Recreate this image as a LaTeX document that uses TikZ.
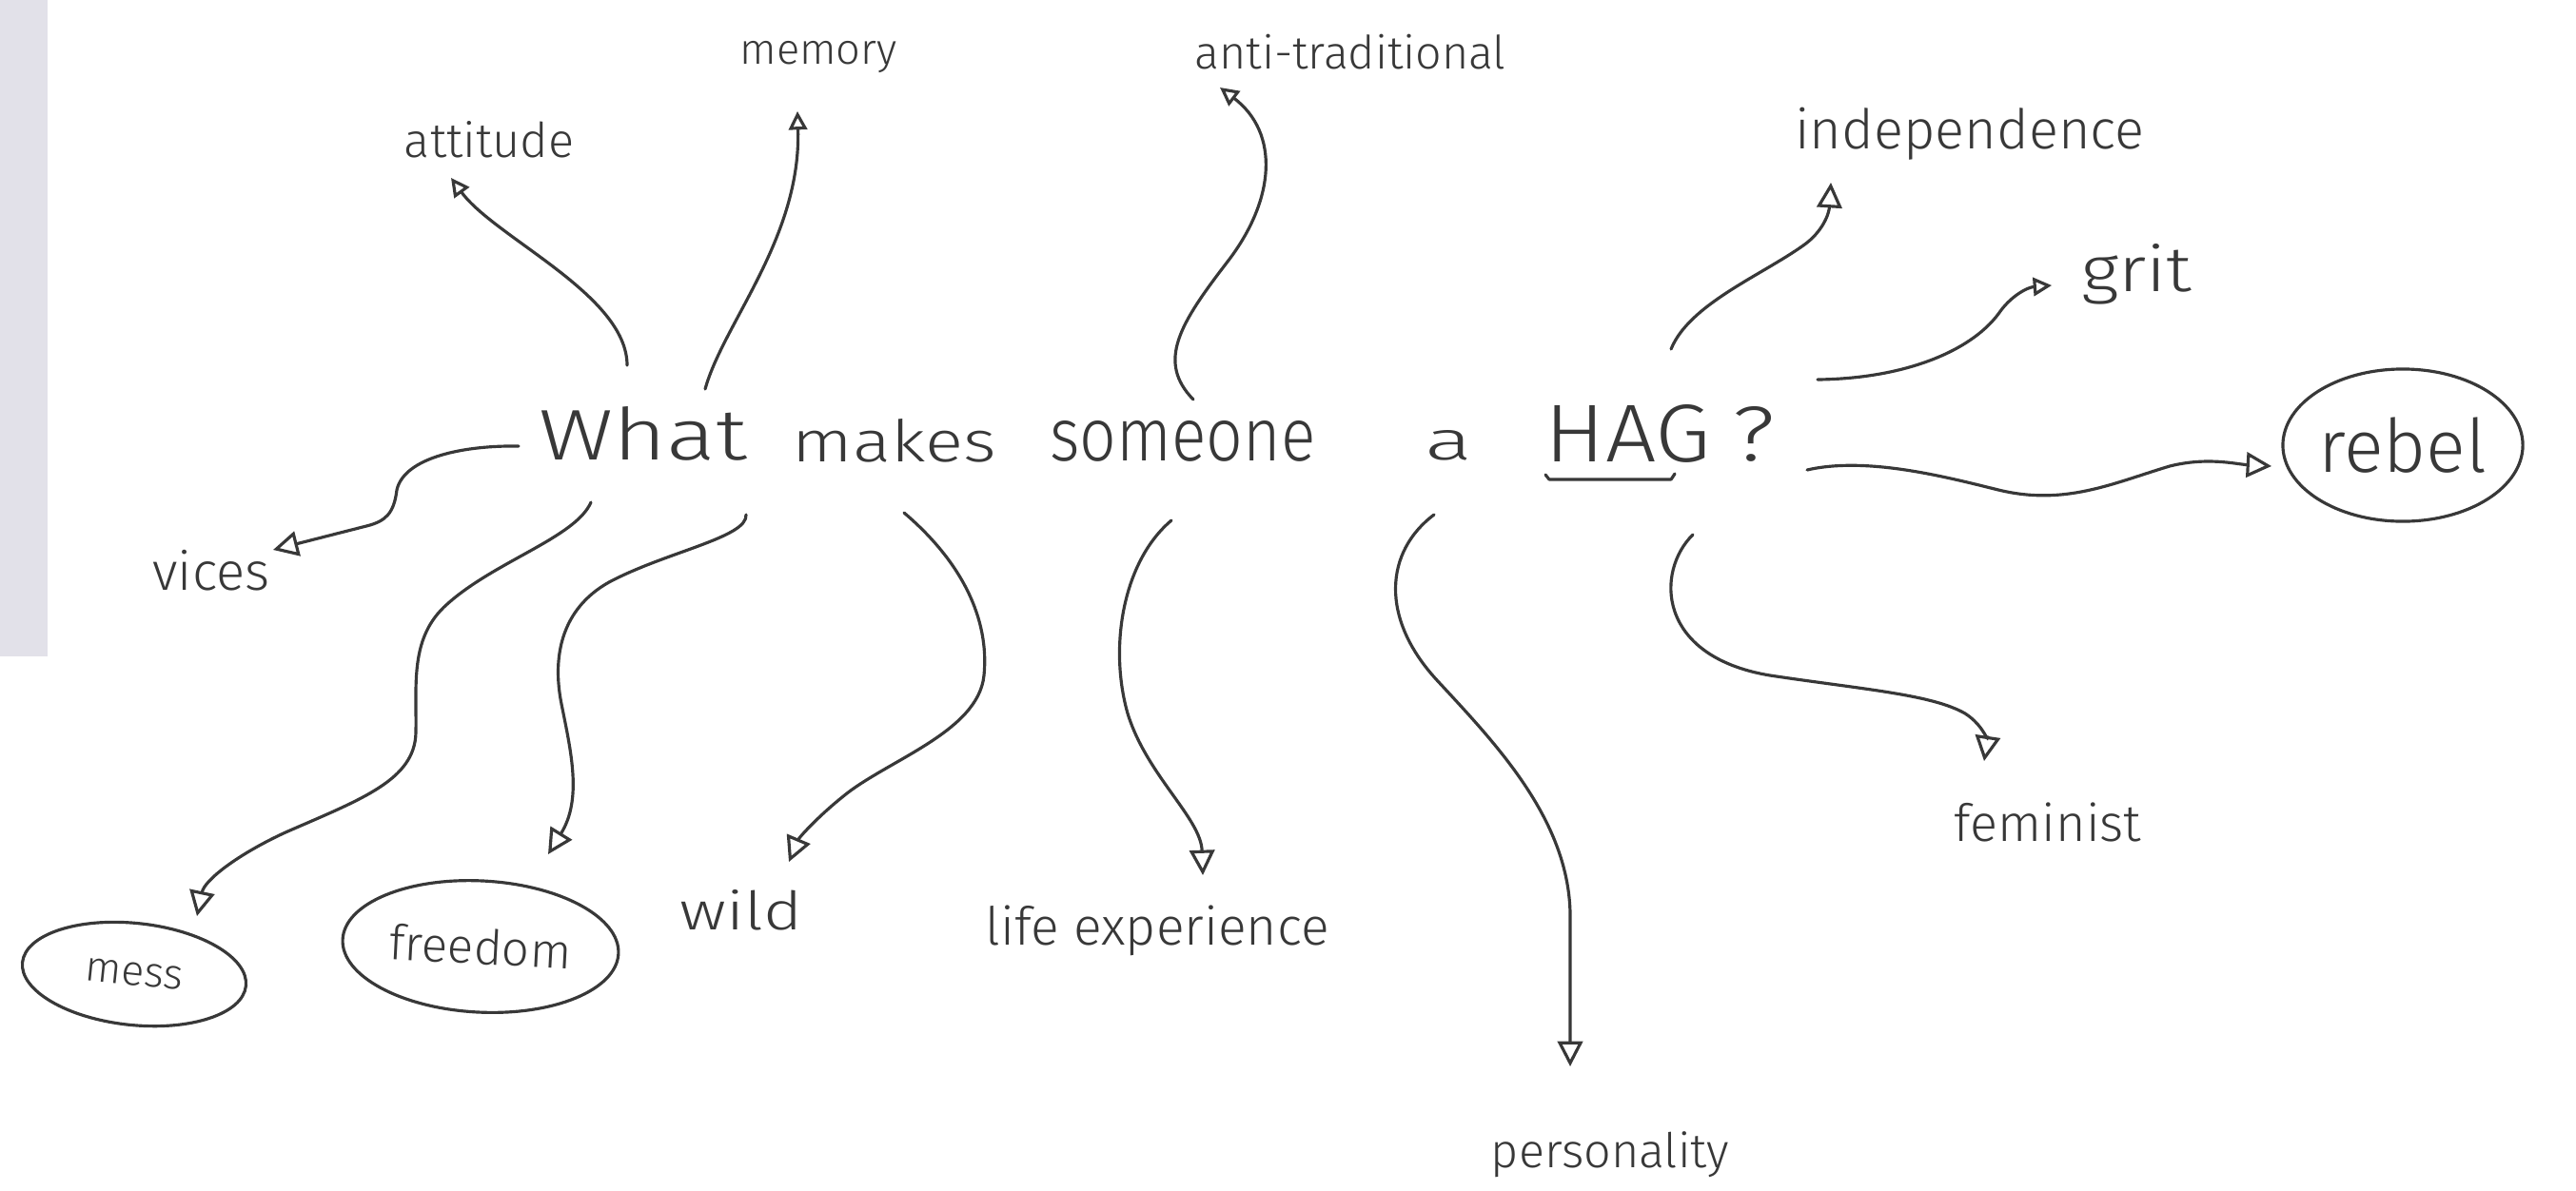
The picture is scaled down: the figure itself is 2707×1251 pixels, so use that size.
\documentclass[tikz,border=0pt]{standalone}
\usepackage{fontspec}
\setmainfont{Fira Sans}[UprightFont=* Light]
\usepackage{graphicx}
\usetikzlibrary{arrows.meta,shapes.geometric,calc}
\definecolor{ink}{RGB}{56,56,56}
\definecolor{margin}{RGB}{226,225,233}
\newcommand{\hw}[2]{\resizebox{#1}{!}{#2}}
\newcommand{\hwh}[3]{\resizebox{#1}{#2}{#3}}
\tikzset{
  word/.style={anchor=base, inner sep=0pt, text=ink, font=\fontsize{20}{24}\selectfont},
  lbl/.style={anchor=base, inner sep=0pt, text=ink, font=\fontsize{14}{16}\selectfont},
  oval/.style={ellipse, draw=ink, line width=0.9pt, inner sep=0pt, text=ink, font=\fontsize{14}{16}\selectfont},
  arr/.style={draw=ink, line width=0.9pt, line cap=round, -{Triangle[open, length=7.5pt, width=7.5pt]}},
  arrs/.style={draw=ink, line width=0.9pt, line cap=round, -{Triangle[open, length=5.5pt, width=5.5pt]}},
}
\begin{document}
\begin{tikzpicture}[x=0.01cm, y=-0.01cm]
\useasboundingbox (0,0) rectangle (2707,1251);
\fill[white] (0,0) rectangle (2707,1251);
\fill[margin] (0,0) rectangle (50,690);

% central question
\node[word] (what) at (676,483) {\hwh{2.19cm}{0.56cm}{What}};
\node[word] (makes) at (940,485) {\hwh{2.14cm}{0.45cm}{makes}};
\node[word] (someone) at (1243,484) {\hwh{2.79cm}{0.42cm}{someone}};
\node[word] (a) at (1522,483) {\hwh{0.5cm}{0.31cm}{a}};
\node[word] (hag) at (1711,485) {\hwh{1.74cm}{0.6cm}{HAG}};
\node[word] (qm) at (1843,484) {\hwh{0.45cm}{0.57cm}{?}};
\draw[ink, line width=0.9pt, line cap=round, line join=round]
  ($(hag.base)+(-87,14)$) -- ++(4,5) -- ++(128,0) -- ++(4,-6);

% labels
\node[lbl] (att) at (514,165) {\hw{1.78cm}{attitude}};
\node[lbl] (mem) at (860,67) {\hw{1.65cm}{memory}};
\node[lbl] (anti) at (1419,72) {\hw{3.27cm}{anti-traditional}};
\node[lbl] (ind) at (2070,156) {\hw{3.67cm}{independence}};
\node[lbl] (grit) at (2245,306) {\hwh{1.16cm}{0.5cm}{grit}};
\node[lbl] (vices) at (222,620) {\hw{1.23cm}{vices}};
\node[lbl] (wild) at (779,977) {\hwh{1.28cm}{0.42cm}{wild}};
\node[lbl] (life) at (1216,993) {\hw{3.61cm}{life experience}};
\node[lbl] (fem) at (2152,884) {\hw{1.96cm}{feminist}};
\node[lbl] (pers) at (1692,1227) {\hw{2.5cm}{personality}};

\node[oval, minimum width=2.52cm, minimum height=1.6cm] (rebel) at (2525,468) {\hw{1.77cm}{rebel}};
\node[oval, minimum width=2.9cm, minimum height=1.38cm, rotate=-3] (freedom) at (505,995) {\hw{1.91cm}{freedom}};
\node[oval, minimum width=2.36cm, minimum height=1.07cm, rotate=-6] (mess) at (141,1024) {\hw{1.03cm}{mess}};

% connectors
\draw[arrs] ($(what.base)+(-17,-99)$) .. controls (659,310) and (520,250) .. ($(att.base)+(-40,22)$);
\draw[arrs] ($(what.base)+(65,-74)$) .. controls (760,340) and (842,250) .. ($(mem.base)+(-22,50)$);
\draw[arrs] ($(someone.base)+(11,-64)$) .. controls (1215,380) and (1240,340) .. (1290,275)
  .. controls (1340,210) and (1345,140) .. ($(anti.base)+(-137,20)$);
\draw[arr] ($(hag.base)+(45,-118)$) .. controls (1775,320) and (1850,290) .. (1895,258)
  .. controls (1915,244) and (1922,225) .. ($(ind.base)+(-146,36)$);
\draw[arrs] ($(qm.base)+(67,-85)$) .. controls (2000,398) and (2070,370) .. (2100,330)
  .. controls (2112,312) and (2130,302) .. ($(grit.base)+(-89,-6)$);
\draw[arr] ($(qm.base)+(56,10)$) .. controls (1960,480) and (2040,500) .. (2100,515)
  .. controls (2170,532) and (2220,508) .. (2280,490)
  .. controls (2320,480) and (2350,488) .. ($(rebel.center)+(-138,22)$);
\draw[arr] ($(hag.base)+(68,77)$) .. controls (1740,600) and (1740,690) .. (1860,710)
  .. controls (1960,725) and (2030,730) .. (2065,750)
  .. controls (2085,763) and (2088,780) .. ($(fem.base)+(-67,-84)$);
\draw[arr] ($(a.base)+(-15,58)$) .. controls (1455,580) and (1450,650) .. (1510,715)
  .. controls (1570,780) and (1648,860) .. (1650,960) -- ($(pers.base)+(-42,-106)$);
\draw[arr] ($(someone.base)+(-12,63)$) .. controls (1180,590) and (1165,680) .. (1185,750)
  .. controls (1205,815) and (1262,860) .. ($(life.base)+(48,-73)$);
\draw[arr] ($(makes.base)+(10,54)$) .. controls (1010,590) and (1040,650) .. (1034,710)
  .. controls (1028,770) and (930,800) .. (885,838)
  .. controls (860,858) and (840,880) .. ($(wild.base)+(50,-71)$);
\draw[arr] ($(what.base)+(108,58)$) .. controls (786,565) and (700,580) .. (640,612)
  .. controls (590,640) and (580,690) .. (590,740)
  .. controls (600,790) and (612,840) .. ($(freedom.center)+(71,-97)$);
\draw[arr] ($(what.base)+(-55,45)$) .. controls (605,565) and (520,590) .. (470,635)
  .. controls (430,670) and (438,720) .. (437,770)
  .. controls (436,820) and (380,840) .. (300,875)
  .. controls (250,898) and (215,925) .. ($(mess.center)+(66,-61)$);
\draw[arr] ($(what.base)+(-131,-14)$) .. controls (490,468) and (425,480) .. (417,515)
  .. controls (414,540) and (405,548) .. (385,553) -- ($(vices.base)+(65,-42)$);
\end{tikzpicture}
\end{document}
